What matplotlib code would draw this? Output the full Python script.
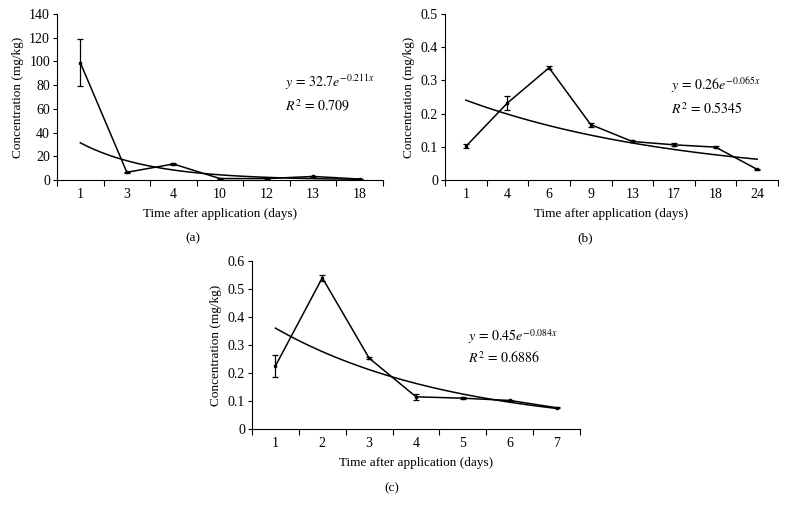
import numpy as np
import matplotlib.pyplot as plt

plt.rcParams['font.family'] = ['Liberation Serif', 'DejaVu Serif']
plt.rcParams['mathtext.fontset'] = 'stix'

# (a)
days_a = ['1', '3', '4', '10', '12', '13', '18']
conc_a = [99.0, 6.5, 13.5, 1.2, 1.2, 3.0, 0.8]
err_a = [20.0, 0.5, 0.8, 0.3, 0.3, 0.5, 0.3]

# (b)
days_b = ['1', '4', '6', '9', '13', '17', '18', '24']
conc_b = [0.101, 0.232, 0.338, 0.167, 0.116, 0.106, 0.099, 0.032]
err_b = [0.006, 0.020, 0.005, 0.006, 0.003, 0.004, 0.003, 0.001]

# (c)
days_c = ['1', '2', '3', '4', '5', '6', '7']
conc_c = [0.225, 0.540, 0.253, 0.115, 0.110, 0.102, 0.076]
err_c = [0.038, 0.010, 0.004, 0.010, 0.003, 0.003, 0.002]

eq_a = (r'$y\,=\,32.7e^{-0.211x}$', r'$R^2\,=\,0.709$')
eq_b = (r'$y\,=\,0.26e^{-0.065x}$', r'$R^2\,=\,0.5345$')
eq_c = (r'$y\,=\,0.45e^{-0.084x}$', r'$R^2\,=\,0.6886$')

W, H = 787, 514
fig = plt.figure(figsize=(W / 100, H / 100), dpi=100)


def panel(rect, days, conc, err, ymax, ystep, eq, eqpos, gap, label, labelpos):
    l, t, r, b = rect
    ax = fig.add_axes([l / W, 1 - b / H, (r - l) / W, (b - t) / H])
    x = np.arange(1, len(days) + 1)
    ax.errorbar(x, conc, yerr=err, color='black', lw=1.1, marker='s', ms=1.8,
                capsize=2.5, elinewidth=0.9, capthick=0.9)
    # exponential trend line fitted on category index
    k, c0 = np.polyfit(x, np.log(conc), 1)
    xs = np.linspace(1, len(days), 100)
    ax.plot(xs, np.exp(c0) * np.exp(k * xs), color='black', lw=1.1)
    ax.set_xlim(0.5, len(days) + 0.5)
    ax.set_ylim(0, ymax)
    yt = np.arange(0, ymax + ystep / 2, ystep)
    ax.set_yticks(yt)
    ax.set_yticklabels([('%g' % round(v, 3)) for v in yt])
    ax.set_xticks(x)
    ax.set_xticklabels(days)
    ax.set_xticks(np.arange(0.5, len(days) + 1), minor=True)
    ax.tick_params(axis='x', which='major', length=0, pad=6, labelsize=10)
    ax.tick_params(axis='x', which='minor', length=4, width=0.8)
    ax.tick_params(axis='y', length=3, width=0.8, labelsize=10, pad=2)
    for s in ['top', 'right']:
        ax.spines[s].set_visible(False)
    for s in ['left', 'bottom']:
        ax.spines[s].set_linewidth(0.8)
    ax.set_xlabel('Time after application (days)', fontsize=9.5, labelpad=5)
    ax.set_ylabel('Concentration (mg/kg)', fontsize=9.5, labelpad=4)
    ax.text(eqpos[0], eqpos[1], eq[0], transform=ax.transAxes, fontsize=10)
    ax.text(eqpos[0], eqpos[1] - gap, eq[1], transform=ax.transAxes, fontsize=10)
    fig.text(labelpos[0] / W, 1 - labelpos[1] / H, label, fontsize=9.5,
             ha='center', va='center')
    return ax


panel((57, 14, 383, 180), days_a, conc_a, err_a, 140, 20, eq_a, (0.70, 0.56),
      0.145, '(a)', (193, 238))
panel((445, 14, 778, 180), days_b, conc_b, err_b, 0.5, 0.1, eq_b, (0.68, 0.54),
      0.14, '(b)', (585, 238))
panel((252, 261, 580, 429), days_c, conc_c, err_c, 0.6, 0.1, eq_c, (0.66, 0.525),
      0.13, '(c)', (392, 488))

fig.savefig('out.png', dpi=100)
